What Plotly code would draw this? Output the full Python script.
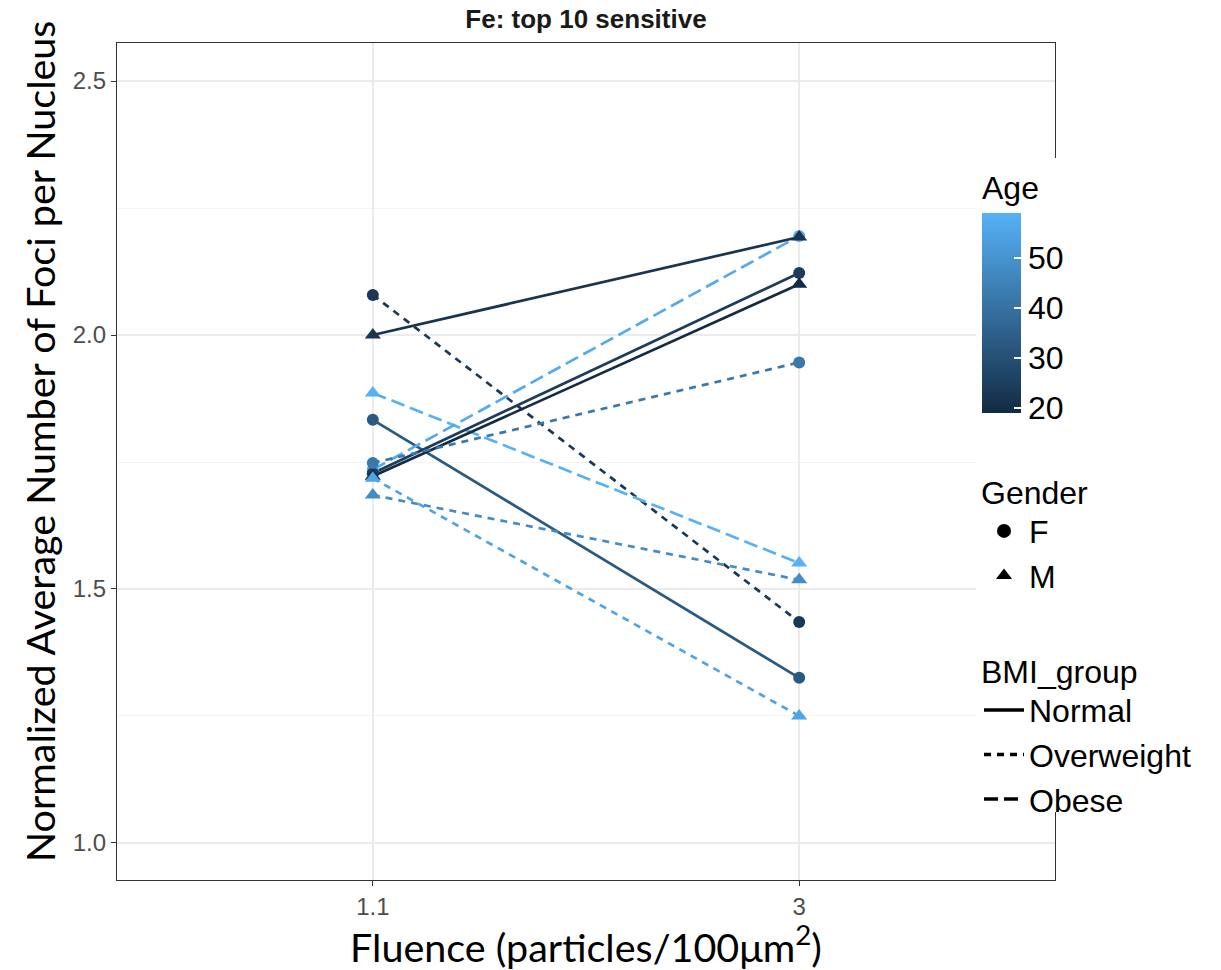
import plotly.graph_objects as go

# Fluence levels (x categories)
fluence = ["1.1", "3"]

# One line per donor: age, gender, BMI group, value at each fluence
age = [23, 22, 59, 33, 57, 24, 19, 42, 55, 48]
gender = ["F", "M", "M", "F", "F", "F", "M", "F", "M", "M"]
bmi_group = ["Overweight", "Normal", "Obese", "Normal", "Obese",
             "Normal", "Normal", "Overweight", "Overweight", "Overweight"]
foci_low = [2.079, 2.000, 1.886, 1.833, 1.735, 1.728, 1.722, 1.748, 1.718, 1.685]
foci_high = [1.435, 2.193, 1.551, 1.325, 2.195, 2.122, 2.100, 1.946, 1.250, 1.518]

y_ticks = [1.0, 1.5, 2.0, 2.5]
age_ticks = [20, 30, 40, 50]

LOW_COL = (0x13, 0x2B, 0x43)
HIGH_COL = (0x56, 0xB1, 0xF7)
age_min, age_max = min(age), max(age)


def age_colour(a):
    t = (a - age_min) / (age_max - age_min)
    r, g, b = (round(lo + t * (hi - lo)) for lo, hi in zip(LOW_COL, HIGH_COL))
    return f"rgb({r},{g},{b})"


dash_style = {"Normal": "solid", "Overweight": "7px,6px", "Obese": "14px,6px"}
symbol_of = {"F": "circle", "M": "triangle-up"}
size_of = {"F": 12, "M": 14}

TICK_FONT = dict(family="Liberation Sans, Arial", size=24, color="#4D4D4D")
LEG_FONT = dict(family="Liberation Sans, Arial", size=32, color="black")
TITLE_FONT = dict(family="Lato, Noto Sans", size=39.5, color="black")

fig = go.Figure()

# connecting lines, one per donor
for i in range(len(age)):
    fig.add_trace(go.Scatter(
        x=fluence, y=[foci_low[i], foci_high[i]], mode="lines",
        line=dict(color=age_colour(age[i]), width=2.7, dash=dash_style[bmi_group[i]]),
        showlegend=False, hoverinfo="skip"))

# points, coloured by age, shaped by gender
for g in ["F", "M"]:
    idx = [i for i in range(len(age)) if gender[i] == g]
    xs, ys, cs = [], [], []
    for i in idx:
        xs += fluence
        ys += [foci_low[i], foci_high[i]]
        cs += [age[i], age[i]]
    fig.add_trace(go.Scatter(
        x=xs, y=ys, mode="markers",
        marker=dict(symbol=symbol_of[g], size=size_of[g], color=cs,
                    coloraxis="coloraxis", line=dict(width=0)),
        showlegend=False))

# Gender legend
for g in ["F", "M"]:
    fig.add_trace(go.Scatter(
        x=[None], y=[None], mode="markers", name=g, legend="legend",
        marker=dict(symbol=symbol_of[g], size=14, color="black")))

# BMI legend
for b in ["Normal", "Overweight", "Obese"]:
    fig.add_trace(go.Scatter(
        x=[None], y=[None], mode="lines", name=b, legend="legend2",
        line=dict(color="black", width=3.5, dash=dash_style[b])))

L, R, T, B = 117, 166, 43, 90
W, H = 1221, 970
pw, ph = W - L - R, H - T - B


def px_x(px):
    return (px - L) / pw


def px_y(py):
    return (H - B - py) / ph


fig.update_layout(
    width=W, height=H,
    margin=dict(l=L, r=R, t=T, b=B),
    paper_bgcolor="white", plot_bgcolor="white",
    title=dict(text="<b>Fe: top 10 sensitive</b>", x=0.5, xref="paper", xanchor="center",
               y=1 - 19 / H, yref="container", yanchor="middle",
               font=dict(family="Liberation Sans, Arial", size=26, color="#1A1A1A")),
    xaxis=dict(
        type="category", categoryorder="array", categoryarray=fluence,
        range=[-0.6, 1.6], showgrid=True, gridcolor="#EBEBEB", gridwidth=1.6,
        showline=True, mirror=True, linecolor="#333333", linewidth=1.4,
        ticks="outside", ticklen=5, tickcolor="#333333", tickwidth=1.2,
        tickfont=TICK_FONT, zeroline=False,
        title=dict(text="Fluence (particles/100μm<sup>2</sup>)", font=TITLE_FONT, standoff=8)),
    yaxis=dict(
        range=[0.927, 2.575], tickvals=y_ticks, tickformat=".1f",
        showgrid=True, gridcolor="#EBEBEB", gridwidth=1.6,
        minor=dict(tickvals=[1.25, 1.75, 2.25], showgrid=True, gridcolor="#F4F4F4", gridwidth=1),
        showline=True, mirror=True, linecolor="#333333", linewidth=1.4,
        ticks="outside", ticklen=5, tickcolor="#333333", tickwidth=1.2,
        tickfont=TICK_FONT, zeroline=False),
    coloraxis=dict(
        colorscale=[[0, age_colour(age_min)], [1, age_colour(age_max)]],
        cmin=age_min, cmax=age_max,
        colorbar=dict(
            title=dict(text="Age", side="top", font=LEG_FONT),
            x=px_x(982), xanchor="left", xpad=0,
            y=px_y(172), yanchor="top", ypad=0,
            lenmode="pixels", len=241, thickness=39, thicknessmode="pixels",
            outlinewidth=0, tickvals=age_ticks,
            ticks="inside", ticklen=7, tickcolor="white", tickwidth=1.5,
            tickfont=LEG_FONT)),
    legend=dict(
        title=dict(text="Gender", font=LEG_FONT), font=LEG_FONT,
        x=px_x(979), xanchor="left", y=px_y(462), yanchor="top",
        bgcolor="rgba(0,0,0,0)", tracegroupgap=0, itemsizing="trace",
        itemwidth=40),
    legend2=dict(
        title=dict(text="BMI_group", font=LEG_FONT), font=LEG_FONT,
        x=px_x(979), xanchor="left", y=px_y(641), yanchor="top",
        bgcolor="rgba(0,0,0,0)", tracegroupgap=0, itemwidth=40),
    annotations=[dict(
        text="Normalized Average Number of Foci per Nucleus",
        xref="paper", yref="paper", x=px_x(40), y=px_y(442),
        xanchor="center", yanchor="middle", textangle=-90,
        showarrow=False, font=TITLE_FONT)],
    shapes=[dict(
        type="rect", xref="paper", yref="paper",
        x0=px_x(976), x1=px_x(1221), y0=px_y(812), y1=px_y(158),
        fillcolor="white", line=dict(width=0), layer="above")],
)

fig.write_html("out.html")
